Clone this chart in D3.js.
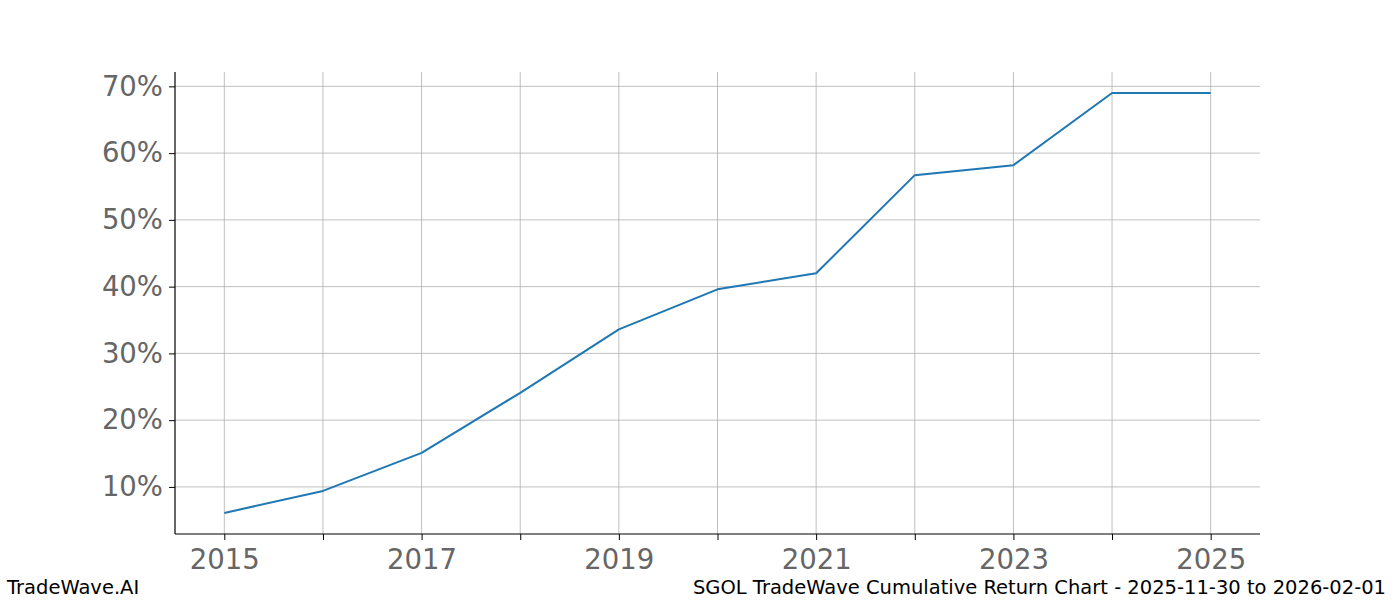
<!DOCTYPE html>
<html><head><meta charset="utf-8">
<script src="https://cdn.jsdelivr.net/npm/d3@7"></script>
<style>body{margin:0;background:#fff;}svg{display:block;font-family:"DejaVu Sans",sans-serif;}</style>
</head><body>
<svg id="c" width="1400" height="600"></svg>
<script>
const years = [2015,2016,2017,2018,2019,2020,2021,2022,2023,2024,2025];
const returns = [6.1,9.4,15.1,24.1,33.6,39.6,42.0,56.7,58.2,69.0,69.0];
const yTicks = [10,20,30,40,50,60,70];
const xTickLabels = [2015,2017,2019,2021,2023,2025];
const leftFooter = "TradeWave.AI";
const rightFooter = "SGOL TradeWave Cumulative Return Chart - 2025-11-30 to 2026-02-01";

const svg = d3.select("#c");
const L=175,R=1260,T=72,B=534;
const x = d3.scaleLinear().domain([2014.5,2025.5]).range([L,R]);
const y = d3.scaleLinear().domain([2.95,72.15]).range([B,T]);

// grid
svg.append("g").selectAll("line").data(years).join("line")
  .attr("x1",d=>x(d)).attr("x2",d=>x(d)).attr("y1",T).attr("y2",B)
  .attr("stroke","#b0b0b0").attr("stroke-width",0.8);
svg.append("g").selectAll("line").data(yTicks).join("line")
  .attr("x1",L).attr("x2",R).attr("y1",d=>y(d)).attr("y2",d=>y(d))
  .attr("stroke","#b0b0b0").attr("stroke-width",0.8);

// line
svg.append("path").datum(years.map((d,i)=>[d,returns[i]]))
  .attr("fill","none").attr("stroke","#1f77b4").attr("stroke-width",2)
  .attr("stroke-linejoin","round")
  .attr("d",d3.line().x(d=>x(d[0])).y(d=>y(d[1])));

// axes
const xa = svg.append("g").attr("transform",`translate(0,${B})`)
  .call(d3.axisBottom(x).tickValues(years).tickSize(6).tickPadding(9)
    .tickFormat(d=>xTickLabels.includes(d)?String(d):""));
const ya = svg.append("g").attr("transform",`translate(${L},0)`)
  .call(d3.axisLeft(y).tickValues(yTicks).tickSize(6).tickPadding(6).tickFormat(d=>d+"%"));
[xa,ya].forEach(a=>{
  a.select(".domain").attr("stroke","#000").attr("stroke-width",1.2);
  a.selectAll(".tick line").attr("stroke","#000").attr("stroke-width",1);
  a.selectAll(".tick text").attr("fill","#666").attr("font-size",27.5)
   .attr("font-family","DejaVu Sans, sans-serif");
});
xa.select(".domain").attr("d",`M${L},0H${R}`);
ya.select(".domain").attr("d",`M0,${T}V${B}`);

svg.append("text").attr("x",7).attr("y",594).attr("font-size",19.5).attr("fill","#000").text(leftFooter);
svg.append("text").attr("x",1386).attr("y",594).attr("text-anchor","end").attr("font-size",19.5).attr("fill","#000").text(rightFooter);
</script>
</body></html>
